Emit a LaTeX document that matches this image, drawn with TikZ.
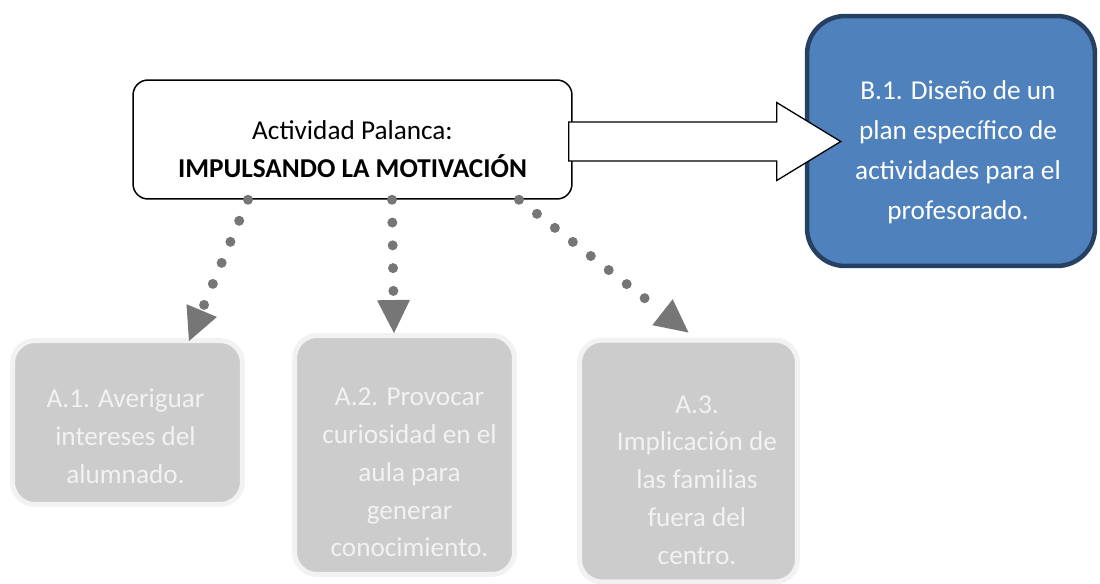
\documentclass[tikz,border=0pt]{standalone}
\usepackage{fontspec}
\setmainfont{Carlito}
\usepackage{tikz}
\usetikzlibrary{arrows.meta,positioning,calc}

\definecolor{azulB}{RGB}{79,129,189}
\definecolor{bordeB}{RGB}{38,64,97}
\definecolor{grisA}{RGB}{204,204,204}
\definecolor{bordeA}{RGB}{242,242,242}
\definecolor{punto}{RGB}{118,118,118}

\tikzset{
  palanca/.style={draw=black, line width=0.03cm, fill=white, rounded corners=0.3cm,
    minimum width=8.78cm, minimum height=2.38cm},
  accion/.style={draw=bordeA, fill=grisA, line width=0.1cm, rounded corners=0.45cm},
  plan/.style={draw=bordeB, fill=azulB, line width=0.09cm, rounded corners=0.76cm,
    minimum width=5.76cm, minimum height=5cm},
  texto/.style={align=center, font=\fontsize{15.5}{21.5}\selectfont},
  puntos/.style={draw=punto, line width=0.2cm, line cap=round,
    dash pattern=on 0pt off 0.456cm,
    -{Triangle[length=0.66cm,width=0.66cm,line width=0pt]}},
  flecha/.style={draw=black, line width=0.026cm, fill=white, line join=miter}
}

\begin{document}
\begin{tikzpicture}[x=0.02cm, y=-0.02cm]
          \useasboundingbox (0,0) rectangle (1100,583);

          \node[plan, label={[texto, text=white, font=\fontsize{15.5}{22.7}\selectfont,
              xshift=0.14cm, yshift=-0.22cm]center:{B.1. Diseño de un\\plan específico de\\actividades para el\\profesorado.}}] (b_1) at (951,141) {};
          \node[palanca, label={[texto, yshift=-0.2cm]center:{Actividad Palanca:\\\textbf{IMPULSANDO LA MOTIVACIÓN}}}] (act) at (352.5,139.5) {};

          \node[accion, minimum width=4.6cm, minimum height=3.28cm,
              label={[texto, text=bordeA, xshift=-0.04cm, yshift=-0.27cm]center:{A.1. Averiguar\\intereses del\\alumnado.}}] (a_1) at (127.5,422.5) {};
          \node[accion, minimum width=4.4cm, minimum height=4.78cm,
              label={[texto, text=bordeA, xshift=0.1cm, yshift=-0.35cm]center:{A.2. Provocar\\curiosidad en el\\aula para\\generar\\conocimiento.}}] (a_2) at (404.5,455) {};
          \node[accion, minimum width=4.36cm, minimum height=4.84cm,
              label={[texto, text=bordeA, xshift=0.17cm, yshift=-0.38cm]center:{A.3.\\Implicación de\\las familias\\fuera del\\centro.}}] (a_3) at (688.5,461) {};

          % dotted arrows to the actions
          \draw[puntos] ($(act.south)+(-104.5,0)$) -- ($(a_1.north)+(61.5,3)$);
          \draw[puntos] ($(act.south)+(39.5,0)$) -- ($(a_2.north)+(-10.5,0)$);
          \draw[puntos] ($(act.south)+(166.5,0)$) -- ($(a_3.north)+(0,-5)$);

          % block arrow to B.1
          \coordinate (f_0) at ($(act.east)+(-4,2)$);
          \draw[flecha] ($(f_0)+(0,-19.5)$) -- ++(208,0) -- ++(0,-19.5) -- ++(64,39)
              -- ++(-64,39) -- ++(0,-19.5) -- ++(-208,0) -- cycle;
\end{tikzpicture}
\end{document}
